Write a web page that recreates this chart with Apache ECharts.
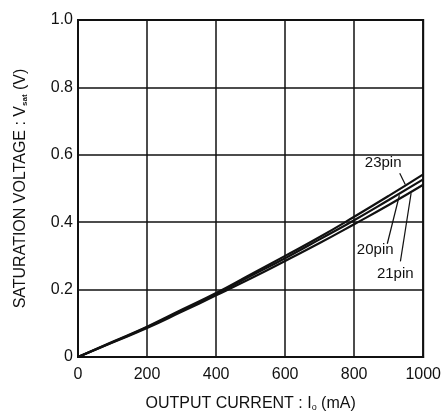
<!DOCTYPE html>
<html>
<head>
<meta charset="utf-8">
<script src="https://cdn.jsdelivr.net/npm/echarts@6/dist/echarts.min.js"></script>
<style>
  html, body { margin: 0; padding: 0; background: #fff; }
  #chart { width: 444px; height: 417px; }
</style>
</head>
<body>
<div id="chart"></div>
<script>
// output current (mA)
const currents = [0, 100, 200, 300, 400, 500, 600, 700, 800, 900, 1000];
// saturation voltage (V) per package
const pin23 = [0, 0.045, 0.09, 0.14, 0.19, 0.245, 0.30, 0.356, 0.416, 0.478, 0.542];
const pin20 = [0, 0.044, 0.088, 0.137, 0.187, 0.240, 0.293, 0.349, 0.406, 0.466, 0.527];
const pin21 = [0, 0.043, 0.086, 0.134, 0.183, 0.233, 0.285, 0.338, 0.394, 0.451, 0.511];

// annotation text positions [x, y, text] and leader lines [from, to]
const labels = [[884, 0.576, '23pin'], [861, 0.318, '20pin'], [919, 0.246, '21pin']];
const leaders = [
  [[932, 0.545], [948, 0.512]],
  [[896, 0.336], [931, 0.480]],
  [[934, 0.284], [965, 0.486]]
];

const font = 'Liberation Sans, Arial, sans-serif';
const ink = '#111';

const chart = echarts.init(document.getElementById('chart'));

const lineSeries = (name, vals) => ({
  name: name,
  type: 'line',
  data: currents.map((c, i) => [c, vals[i]]),
  symbol: 'none',
  smooth: true,
  lineStyle: { color: ink, width: 2.2 },
  z: 5
});

chart.setOption({
  animation: false,
  grid: {
    left: 78, top: 20, right: 20, bottom: 55,
    show: true, borderColor: ink, borderWidth: 2
  },
  xAxis: {
    type: 'value',
    min: 0, max: 1000, interval: 200,
    name: 'OUTPUT CURRENT : I{s|o} (mA)',
    nameLocation: 'middle',
    nameGap: 39,
    nameTextStyle: {
      color: ink, fontFamily: font, fontSize: 16,
      rich: { s: { fontSize: 9, padding: [7, 0, 0, 0], color: ink, fontFamily: font } }
    },
    axisLine: { show: true, lineStyle: { color: ink, width: 2 } },
    axisTick: { show: false },
    axisLabel: {
      color: ink, fontFamily: font, fontSize: 16, margin: 10,
      formatter: v => String(v)
    },
    splitLine: { show: true, lineStyle: { color: ink, width: 1.5 } }
  },
  yAxis: {
    type: 'value',
    min: 0, max: 1, interval: 0.2,
    name: 'SATURATION VOLTAGE : V{s|sat} (V)',
    nameLocation: 'middle',
    nameGap: 49,
    nameTextStyle: {
      color: ink, fontFamily: font, fontSize: 16,
      rich: { s: { fontSize: 8, fontWeight: 'bold', padding: [7, 0, 0, 0], color: ink, fontFamily: font } }
    },
    axisLine: { show: true, lineStyle: { color: ink, width: 2 } },
    axisTick: { show: false },
    axisLabel: {
      color: ink, fontFamily: font, fontSize: 16, margin: 5,
      formatter: v => (v === 0 ? '0' : v.toFixed(1))
    },
    splitLine: { show: true, lineStyle: { color: ink, width: 1.5 } }
  },
  series: [
    lineSeries('23pin', pin23),
    lineSeries('20pin', pin20),
    lineSeries('21pin', pin21),
    {
      type: 'scatter',
      data: labels.map(l => [l[0], l[1], l[2]]),
      symbolSize: 0,
      itemStyle: { opacity: 1 },
      label: {
        show: true,
        position: 'inside',
        formatter: p => p.data[2],
        color: ink, fontFamily: font, fontSize: 15
      },
      markLine: {
        silent: true,
        symbol: ['none', 'none'],
        lineStyle: { color: ink, width: 1.2, type: 'solid' },
        label: { show: false },
        data: leaders.map(l => [{ coord: l[0] }, { coord: l[1] }])
      },
      z: 6
    }
  ]
});
</script>
</body>
</html>
